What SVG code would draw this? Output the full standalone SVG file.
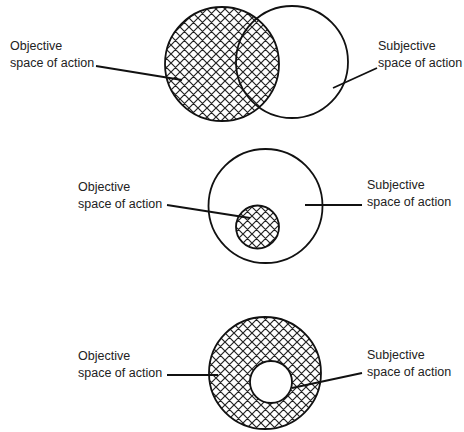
<svg xmlns="http://www.w3.org/2000/svg" width="464" height="432" viewBox="0 0 464 432">
<style>
.lbl{font-family:"Liberation Sans",Arial,sans-serif;font-size:12.5px;fill:#222}
.ring{fill:none;stroke:#111;stroke-width:1.8}
.hatch{fill:url(#xh);stroke:#111;stroke-width:1.8}
.white{fill:#fff;stroke:#111;stroke-width:1.8}
.con{stroke:#111;stroke-width:1.8;fill:none}
</style>
<defs>
<pattern id="xh" patternUnits="userSpaceOnUse" width="9" height="9">
<rect width="9" height="9" fill="#fff"/>
<path d="M0,0L9,9M0,9L9,0M-1,8L1,10M8,-1L10,1M-1,1L1,-1M8,10L10,8" stroke="#222" stroke-width="1.2"/>
</pattern>
</defs>
<rect width="464" height="432" fill="#fff"/>
<g id="top">
<circle class="hatch" cx="222" cy="64" r="57"/>
<circle class="ring" cx="292" cy="62" r="56"/>
</g>
<g id="middle">
<circle class="ring" cx="265.5" cy="206" r="57"/>
<circle class="hatch" cx="257.5" cy="227" r="21.5"/>
</g>
<g id="bottom">
<circle class="hatch" cx="265" cy="373" r="56"/>
<circle class="white" cx="271" cy="382" r="21"/>
</g>
<g id="labels">
<text class="lbl" x="10" y="50">Objective</text>
<text class="lbl" x="10" y="67">space of action</text>
<text class="lbl" x="378" y="50">Subjective</text>
<text class="lbl" x="378" y="67">space of action</text>
<text class="lbl" x="78" y="191">Objective</text>
<text class="lbl" x="78" y="208">space of action</text>
<text class="lbl" x="367" y="189">Subjective</text>
<text class="lbl" x="367" y="206">space of action</text>
<text class="lbl" x="78" y="360">Objective</text>
<text class="lbl" x="78" y="377">space of action</text>
<text class="lbl" x="367" y="359">Subjective</text>
<text class="lbl" x="367" y="376">space of action</text>
</g>
<g id="connectors">
<line class="con" x1="96" y1="66" x2="182" y2="80"/>
<line class="con" x1="333" y1="88" x2="377" y2="68"/>
<line class="con" x1="167" y1="205" x2="250" y2="218"/>
<line class="con" x1="305" y1="205" x2="362" y2="205"/>
<line class="con" x1="167" y1="375" x2="218" y2="375"/>
<line class="con" x1="292" y1="388" x2="362" y2="373"/>
</g>
</svg>
